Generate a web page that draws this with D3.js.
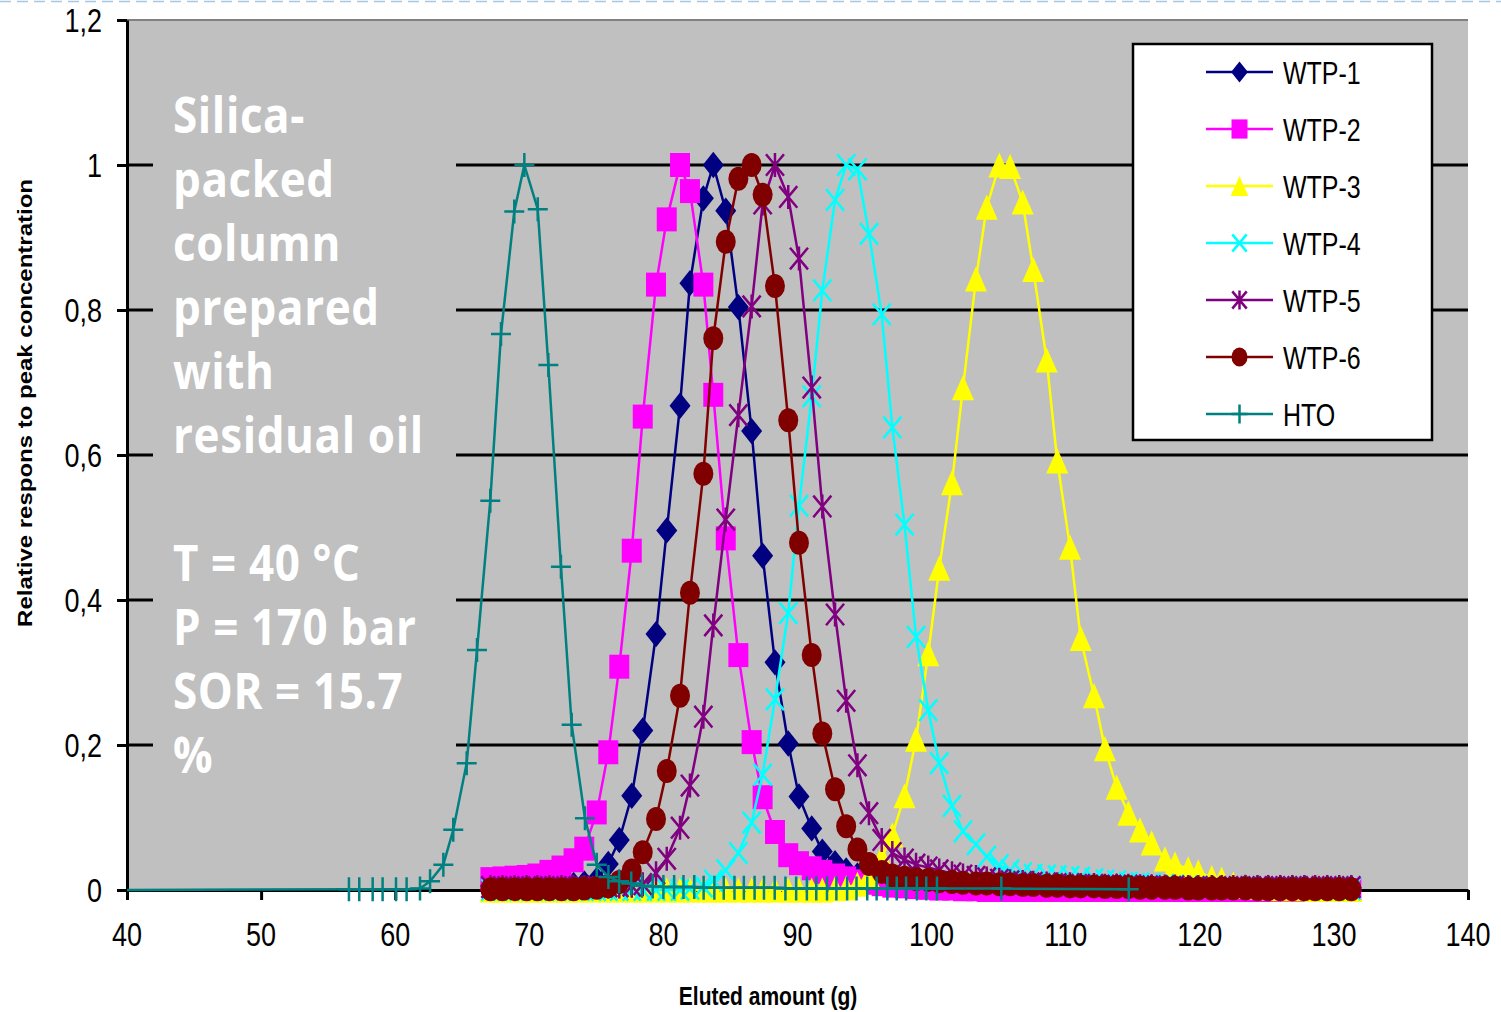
<!DOCTYPE html>
<html>
<head>
<meta charset="utf-8">
<script src="https://cdn.jsdelivr.net/npm/d3@7"></script>
<style>
  body { margin: 0; background: #fff; }
  svg { display: block; }
</style>
</head>
<body>
<svg id="chart" width="1501" height="1012"></svg>
<script>
// 추출량 그리드 (g) - WTP 트레이서 공통
const wtpX = [
  67.1, 68.0, 68.9, 69.8, 70.6, 71.5, 72.4, 73.3, 74.1,
  75.03, 75.89, 76.71, 77.64, 78.46, 79.45, 80.25, 81.24, 81.98, 82.98,
  83.72, 84.65, 85.59, 86.58, 87.40, 88.32, 89.31, 90.11, 91.06, 91.85,
  92.80, 93.63, 94.47, 95.33, 96.28, 97.07, 97.98, 98.84, 99.75, 100.57,
  101.52, 102.34, 103.31, 104.11, 105.05, 105.85, 106.79, 107.58, 108.58, 109.37,
  110.32, 111.12, 112.11, 112.93, 113.80, 114.67, 115.54, 116.41, 117.40, 118.15,
  119.14, 119.89, 120.89, 121.63, 122.5, 123.4, 124.3, 125.1, 126.0, 126.9,
  127.8, 128.6, 129.5, 130.4, 131.3
];

const wtp1 = [
  0.006, 0.006, 0.005, 0.006, 0.005, 0.006, 0.006, 0.007, 0.009,
  0.014, 0.036, 0.069, 0.130, 0.220, 0.353, 0.496, 0.668, 0.837, 0.954,
  1.000, 0.937, 0.804, 0.633, 0.461, 0.314, 0.202, 0.129, 0.085, 0.053,
  0.037, 0.027, 0.020, 0.015, 0.012, 0.010, 0.009, 0.008, 0.007, 0.007,
  0.006, 0.006, 0.006, 0.005, 0.006, 0.005, 0.005, 0.005, 0.005, 0.004,
  0.005, 0.004, 0.004, 0.004, 0.005, 0.004, 0.004, 0.004, 0.003, 0.004,
  0.004, 0.003, 0.004, 0.003, 0.003, 0.004, 0.003, 0.003, 0.003, 0.003,
  0.003, 0.002, 0.003, 0.002, 0.003
];

const wtp2 = [
  0.015, 0.016, 0.017, 0.018, 0.020, 0.025, 0.031, 0.041, 0.057,
  0.107, 0.190, 0.308, 0.468, 0.653, 0.835, 0.925, 1.000, 0.964, 0.835,
  0.683, 0.485, 0.324, 0.204, 0.128, 0.080, 0.048, 0.037, 0.030, 0.025,
  0.020, 0.016, 0.012, 0.010, 0.008, 0.006, 0.005, 0.004, 0.003, 0.002,
  0.002, 0.001, 0.001, 0, 0, 0, 0, 0, 0, 0,
  0, 0, 0, 0, 0, 0, 0, 0, 0, 0,
  0, 0, 0, 0, 0, 0, 0, 0, 0, 0,
  0, 0, 0, 0, 0
];

const wtp3 = [
  0, 0, 0, 0, 0, 0, 0, 0, 0,
  0, 0, 0, 0, 0, 0, 0, 0, 0, 0,
  0, 0, 0, 0, 0, 0, 0, 0, 0, 0,
  0.002, 0.003, 0.008, 0.020, 0.045, 0.076, 0.130, 0.208, 0.326, 0.444,
  0.562, 0.693, 0.843, 0.942, 1.000, 0.998, 0.949, 0.856, 0.731, 0.592,
  0.473, 0.347, 0.268, 0.195, 0.142, 0.106, 0.083, 0.065, 0.043, 0.036,
  0.029, 0.025, 0.017, 0.015, 0.008, 0.005, 0.004, 0.003, 0.002, 0.002,
  0.002, 0.001, 0.001, 0.001, 0.001
];

const wtp4 = [
  0, 0, 0, 0, 0, 0, 0, 0, 0,
  0, 0, 0, 0, 0, 0, 0, 0, 0.002, 0.005,
  0.013, 0.027, 0.051, 0.093, 0.159, 0.263, 0.382, 0.530, 0.681, 0.827,
  0.952, 1.000, 0.994, 0.905, 0.794, 0.638, 0.504, 0.349, 0.248, 0.175,
  0.116, 0.081, 0.063, 0.046, 0.034, 0.027, 0.023, 0.021, 0.020, 0.019,
  0.018, 0.017, 0.015, 0.013, 0.012, 0.010, 0.009, 0.008, 0.007, 0.006,
  0.005, 0.005, 0.004, 0.004, 0.003, 0.003, 0.003, 0.002, 0.002, 0.002,
  0.002, 0.002, 0.001, 0.001, 0.001
];

const wtp5 = [
  0.004, 0.004, 0.004, 0.004, 0.004, 0.004, 0.004, 0.004, 0.004,
  0.005, 0.005, 0.005, 0.006, 0.008, 0.023, 0.043, 0.086, 0.144, 0.239,
  0.365, 0.511, 0.655, 0.805, 0.947, 1.000, 0.956, 0.871, 0.693, 0.529,
  0.380, 0.261, 0.172, 0.106, 0.069, 0.051, 0.042, 0.035, 0.031, 0.027,
  0.023, 0.020, 0.018, 0.016, 0.014, 0.012, 0.011, 0.010, 0.009, 0.008,
  0.008, 0.007, 0.007, 0.006, 0.006, 0.006, 0.005, 0.005, 0.005, 0.005,
  0.004, 0.004, 0.004, 0.004, 0.004, 0.004, 0.004, 0.004, 0.004, 0.004,
  0.004, 0.004, 0.004, 0.004, 0.004
];

const wtp6 = [
  0.001, 0.001, 0.001, 0.001, 0.001, 0.001, 0.001, 0.001, 0.002,
  0.003, 0.005, 0.011, 0.027, 0.052, 0.098, 0.164, 0.268, 0.410, 0.574,
  0.761, 0.894, 0.981, 1.000, 0.959, 0.833, 0.648, 0.479, 0.324, 0.216,
  0.139, 0.088, 0.056, 0.036, 0.025, 0.020, 0.017, 0.015, 0.014, 0.012,
  0.011, 0.010, 0.009, 0.009, 0.008, 0.008, 0.007, 0.007, 0.006, 0.006,
  0.005, 0.005, 0.005, 0.004, 0.004, 0.004, 0.003, 0.003, 0.003, 0.003,
  0.002, 0.002, 0.002, 0.002, 0.002, 0.002, 0.001, 0.001, 0.001, 0.001,
  0.001, 0.001, 0.001, 0.001, 0.001
];

// HTO (자체 샘플링 그리드)
const htoX = [
  40, 56.55, 57.32, 58.32, 59.06, 60.06, 60.85, 61.85, 62.6, 63.59,
  64.33, 65.33, 66.1, 67.09, 67.89, 68.88, 69.63, 70.63, 71.42, 72.36,
  73.16, 74.15, 75.03, 75.9, 76.7, 77.6, 78.4, 79.2, 80.0, 80.8,
  81.5, 82.3, 83.0, 83.8, 84.5, 85.3, 86.0, 86.8, 87.5, 88.3,
  89.1, 89.9, 90.7, 91.4, 92.2, 92.9, 93.7, 94.4, 95.2, 95.9,
  96.7, 97.4, 98.1, 98.9, 99.6, 100.4, 105.2, 114.7
];
const htoY = [
  0, 0.001, 0.001, 0.001, 0.001, 0.001, 0.001, 0.002, 0.012, 0.035,
  0.083, 0.175, 0.331, 0.537, 0.767, 0.936, 1.000, 0.939, 0.724, 0.446,
  0.228, 0.099, 0.035, 0.018, 0.012, 0.009, 0.006, 0.005, 0.004, 0.004,
  0.004, 0.004, 0.003, 0.003, 0.003, 0.003, 0.003, 0.003, 0.003, 0.003,
  0.002, 0.002, 0.002, 0.002, 0.002, 0.002, 0.002, 0.002, 0.002, 0.002,
  0.002, 0.002, 0.002, 0.002, 0.002, 0.002, 0.002, 0.001
];

const xTicks = [40, 50, 60, 70, 80, 90, 100, 110, 120, 130, 140];
const yTicks = [0, 0.2, 0.4, 0.6, 0.8, 1, 1.2];
const yTickLabels = ["0", "0,2", "0,4", "0,6", "0,8", "1", "1,2"];
const noteLines = ["Silica-", "packed", "column", "prepared", "with", "residual oil", "",
                   "T = 40 °C", "P = 170 bar", "SOR = 15.7", "%"];

// 시리즈 스타일
const series = [
  { name: "WTP-1", xs: wtpX, ys: wtp1, color: "#000080", marker: "diamond" },
  { name: "WTP-2", xs: wtpX, ys: wtp2, color: "#ff00ff", marker: "square" },
  { name: "WTP-3", xs: wtpX, ys: wtp3, color: "#ffff00", marker: "triangle" },
  { name: "WTP-4", xs: wtpX, ys: wtp4, color: "#00ffff", marker: "cross" },
  { name: "WTP-5", xs: wtpX, ys: wtp5, color: "#800080", marker: "star" },
  { name: "WTP-6", xs: wtpX, ys: wtp6, color: "#800000", marker: "circle" },
  { name: "HTO", xs: htoX, ys: htoY, color: "#008080", marker: "plus" }
];

const STRETCH = 1.2; // 원본 이미지의 세로 늘림
const FONT = "'Liberation Sans', Arial, sans-serif";

const svg = d3.select("#chart");

const x = d3.scaleLinear().domain([40, 140]).range([127, 1468]);
const y = d3.scaleLinear().domain([0, 1.2]).range([890, 20]);

// 슬라이드 상단 점선
svg.append("line")
    .attr("x1", 0).attr("x2", 1501)
    .attr("y1", 1.5).attr("y2", 1.5)
    .attr("stroke", "#a9c6e2")
    .attr("stroke-width", 1.5)
    .attr("stroke-dasharray", "11,6");

// 플롯 배경
svg.append("rect")
    .attr("x", x(40)).attr("y", y(1.2))
    .attr("width", x(140) - x(40))
    .attr("height", y(0) - y(1.2))
    .attr("fill", "#c0c0c0");

svg.append("line")
    .attr("x1", x(40)).attr("x2", x(140))
    .attr("y1", y(1.2)).attr("y2", y(1.2))
    .attr("stroke", "#808080")
    .attr("stroke-width", 2);

// 수평 격자선
svg.append("g")
    .selectAll("line")
    .data(yTicks.filter(d => d > 0 && d < 1.2))
    .enter()
    .append("line")
    .attr("x1", x(40)).attr("x2", x(140))
    .attr("y1", d => y(d)).attr("y2", d => y(d))
    .attr("stroke", "#000")
    .attr("stroke-width", 3);

// 설명 텍스트 박스 (격자선을 가림)
svg.append("rect")
    .attr("x", 153).attr("y", 70)
    .attr("width", 303).attr("height", 730)
    .attr("fill", "#c0c0c0");

const note = svg.append("g")
    .style("font-family", "'Open Sans', sans-serif")
    .style("font-weight", "bold")
    .style("font-size", "44px")
    .style("letter-spacing", "0.6px")
    .style("fill", "#fff");

noteLines.forEach((line, i) => {
    note.append("text")
        .attr("transform", `translate(173,${133 + i * 64}) scale(1,1.12)`)
        .text(line);
});

// 축
const yAxis = svg.append("g")
    .attr("transform", `translate(${x(40)},0)`)
    .call(d3.axisLeft(y).tickValues(yTicks).tickSize(10).tickSizeOuter(0).tickFormat(""));

const xAxis = svg.append("g")
    .attr("transform", `translate(0,${y(0)})`)
    .call(d3.axisBottom(x).tickValues(xTicks).tickSize(10).tickSizeOuter(0).tickFormat(""));

[yAxis, xAxis].forEach(g => {
    g.select(".domain").attr("stroke", "#000").attr("stroke-width", 3);
    g.selectAll(".tick line").attr("stroke", "#000").attr("stroke-width", 3);
});

// 축 눈금 라벨
svg.append("g")
    .selectAll("text")
    .data(yTicks)
    .enter()
    .append("text")
    .attr("transform", d => `translate(102,${y(d) + 1}) scale(1,${STRETCH})`)
    .attr("text-anchor", "end")
    .attr("dominant-baseline", "central")
    .style("font-family", FONT)
    .style("font-size", "27px")
    .text((d, i) => yTickLabels[i]);

svg.append("g")
    .selectAll("text")
    .data(xTicks)
    .enter()
    .append("text")
    .attr("transform", d => `translate(${x(d)},935) scale(1,${STRETCH})`)
    .attr("text-anchor", "middle")
    .attr("dominant-baseline", "central")
    .style("font-family", FONT)
    .style("font-size", "27px")
    .text(d => d);

// 축 제목
svg.append("text")
    .attr("transform", `translate(768,996) scale(1,${STRETCH})`)
    .attr("text-anchor", "middle")
    .attr("dominant-baseline", "central")
    .style("font-family", FONT)
    .style("font-weight", "bold")
    .style("font-size", "21px")
    .text("Eluted amount (g)");

svg.append("text")
    .attr("transform", `translate(25,403) rotate(-90) scale(${STRETCH},1)`)
    .attr("text-anchor", "middle")
    .attr("dominant-baseline", "central")
    .style("font-family", FONT)
    .style("font-weight", "bold")
    .style("font-size", "20px")
    .text("Relative respons to peak concentration");

// 마커 모양
const markerShapes = {
    diamond: "M0,-11L10.5,0L0,11L-10.5,0Z",
    square: "M-10,-10H10V10H-10Z",
    triangle: "M0,-10.5L11,10.5H-11Z",
    circle: "M-10,0A10,10 0 1,0 10,0A10,10 0 1,0 -10,0Z",
    cross: "M-9,-9L9,9M-9,9L9,-9",
    star: "M-9,-9L9,9M-9,9L9,-9M0,-10V10",
    plus: "M-10,0H10M0,-10V10"
};
const filledMarkers = ["diamond", "square", "triangle", "circle"];

function drawMarker(sel, s, k) {
    const filled = filledMarkers.includes(s.marker);
    sel.attr("d", markerShapes[s.marker])
        .attr("fill", filled ? s.color : "none")
        .attr("stroke", filled ? "none" : s.color)
        .attr("stroke-width", 2.5)
        .attr("vector-effect", "non-scaling-stroke")
        .attr("transform", function () {
            return `${d3.select(this).attr("data-pos") || ""} scale(${k},${k * STRETCH})`;
        });
}

const line = d3.line()
    .x(d => x(d[0]))
    .y(d => y(d[1]));

// 시리즈 그리기 (WTP-1 → HTO 순서)
series.forEach(s => {
    const pts = s.xs.map((v, i) => [v, s.ys[i]]);
    const g = svg.append("g");

    g.append("path")
        .datum(pts)
        .attr("fill", "none")
        .attr("stroke", s.color)
        .attr("stroke-width", 2.5)
        .attr("stroke-linejoin", "round")
        .attr("d", line);

    g.selectAll("path.mk")
        .data(pts.filter(d => d[0] > 40))
        .enter()
        .append("path")
        .attr("class", "mk")
        .attr("data-pos", d => `translate(${x(d[0])},${y(d[1])})`)
        .call(drawMarker, s, 1);
});

// 범례
const legend = svg.append("g");
legend.append("rect")
    .attr("x", 1133).attr("y", 44)
    .attr("width", 299).attr("height", 396)
    .attr("fill", "#fff")
    .attr("stroke", "#000")
    .attr("stroke-width", 2.5);

series.forEach((s, i) => {
    const cy = 72 + i * 57;
    legend.append("line")
        .attr("x1", 1206).attr("x2", 1273)
        .attr("y1", cy).attr("y2", cy)
        .attr("stroke", s.color)
        .attr("stroke-width", 2.5);
    legend.append("path")
        .attr("data-pos", `translate(1239.5,${cy})`)
        .call(drawMarker, s, 0.8);
    legend.append("text")
        .attr("transform", `translate(1283,${cy + 1}) scale(1,1.25)`)
        .attr("dominant-baseline", "central")
        .style("font-family", FONT)
        .style("font-size", "25px")
        .text(s.name);
});
</script>
</body>
</html>
